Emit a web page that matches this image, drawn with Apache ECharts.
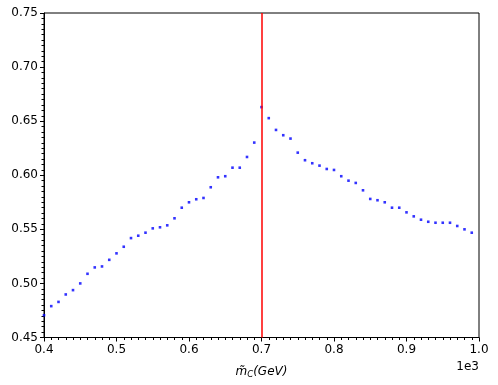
<!DOCTYPE html>
<html>
<head>
<meta charset="utf-8">
<script src="https://cdn.jsdelivr.net/npm/echarts@6/dist/echarts.min.js"></script>
<style>
html,body{margin:0;padding:0;background:#fff;}
#chart{width:498px;height:385px;}
</style>
</head>
<body>
<div id="chart"></div>
<script>
// mass values in GeV
const massGeV = [400,410,420,430,440,450,460,470,480,490,
  500,510,520,530,540,550,560,570,580,590,
  600,610,620,630,640,650,660,670,680,690,
  700,710,720,730,740,750,760,770,780,790,
  800,810,820,830,840,850,860,870,880,890,
  900,910,920,930,940,950,960,970,980,990];
const ratio = [0.4706,0.4790,0.4829,0.4898,0.4938,0.5000,0.5089,0.5148,0.5157,0.5218,
  0.5278,0.5339,0.5419,0.5441,0.5469,0.5509,0.5519,0.5537,0.5602,0.5700,
  0.5750,0.5778,0.5790,0.5889,0.5981,0.5991,0.6070,0.6070,0.6169,0.6302,
  0.6630,0.6528,0.6419,0.6370,0.6339,0.6209,0.6139,0.6111,0.6089,0.6058,
  0.6049,0.5991,0.5950,0.5929,0.5861,0.5781,0.5769,0.5750,0.5700,0.5700,
  0.5657,0.5620,0.5589,0.5570,0.5561,0.5561,0.5561,0.5531,0.5500,0.5469];
const vlineX = 700;
const xTicks = [0.4,0.5,0.6,0.7,0.8,0.9,1.0];
const yTicks = [0.45,0.50,0.55,0.60,0.65,0.70,0.75];

const font = 'DejaVu Sans';
const chart = echarts.init(document.getElementById('chart'), null, {renderer:'canvas'});
chart.setOption({
  animation:false,
  backgroundColor:'#fff',
  grid:{left:44, right:19, top:13, bottom:47.5, show:true, borderColor:'#000', borderWidth:1, backgroundColor:'transparent'},
  xAxis:{
    type:'value', min:400, max:1000, interval:100,
    axisLine:{show:true, onZero:false, lineStyle:{color:'#000', width:1}},
    axisTick:{show:true, inside:false, length:4, lineStyle:{color:'#000', width:1}},
    minorTick:{show:true, splitNumber:10, length:2.5, lineStyle:{color:'#000', width:1}},
    splitLine:{show:false},
    axisLabel:{color:'#000', fontFamily:font, fontSize:12, margin:6,
      formatter:function(v){ return (v/1000).toFixed(1); }},
    name:'{m|m\u0303}{s|C}{m|(GeV)}',
    nameLocation:'middle', nameGap:27,
    nameTextStyle:{color:'#000', fontFamily:font, fontSize:12,
      rich:{m:{fontFamily:font, fontSize:12, fontStyle:'italic', color:'#000'},
            s:{fontFamily:font, fontSize:8.5, fontStyle:'italic', color:'#000', padding:[6,0,0,0]}}}
  },
  yAxis:{
    type:'value', min:0.45, max:0.75, interval:0.05,
    axisLine:{show:true, onZero:false, lineStyle:{color:'#000', width:1}},
    axisTick:{show:true, inside:false, length:4, lineStyle:{color:'#000', width:1}},
    minorTick:{show:true, splitNumber:10, length:2.5, lineStyle:{color:'#000', width:1}},
    splitLine:{show:false},
    axisLabel:{color:'#000', fontFamily:font, fontSize:12, margin:6,
      formatter:function(v){ return v.toFixed(2); }}
  },
  graphic:[{
    type:'text', right:19, top:361,
    style:{text:'1e3', font:'12px "DejaVu Sans"', fill:'#000', textAlign:'right'}
  }],
  series:[{
    type:'scatter',
    data: massGeV.map((m,i)=>[m, ratio[i]]),
    symbol:'rect', symbolSize:2.6,
    itemStyle:{color:'#0000ff'},
    clip:false,
    markLine:{
      silent:true, symbol:['none','none'], label:{show:false},
      lineStyle:{color:'#ff0000', width:1.5, type:'solid'},
      data:[{xAxis:vlineX}]
    }
  }]
});
</script>
</body>
</html>
